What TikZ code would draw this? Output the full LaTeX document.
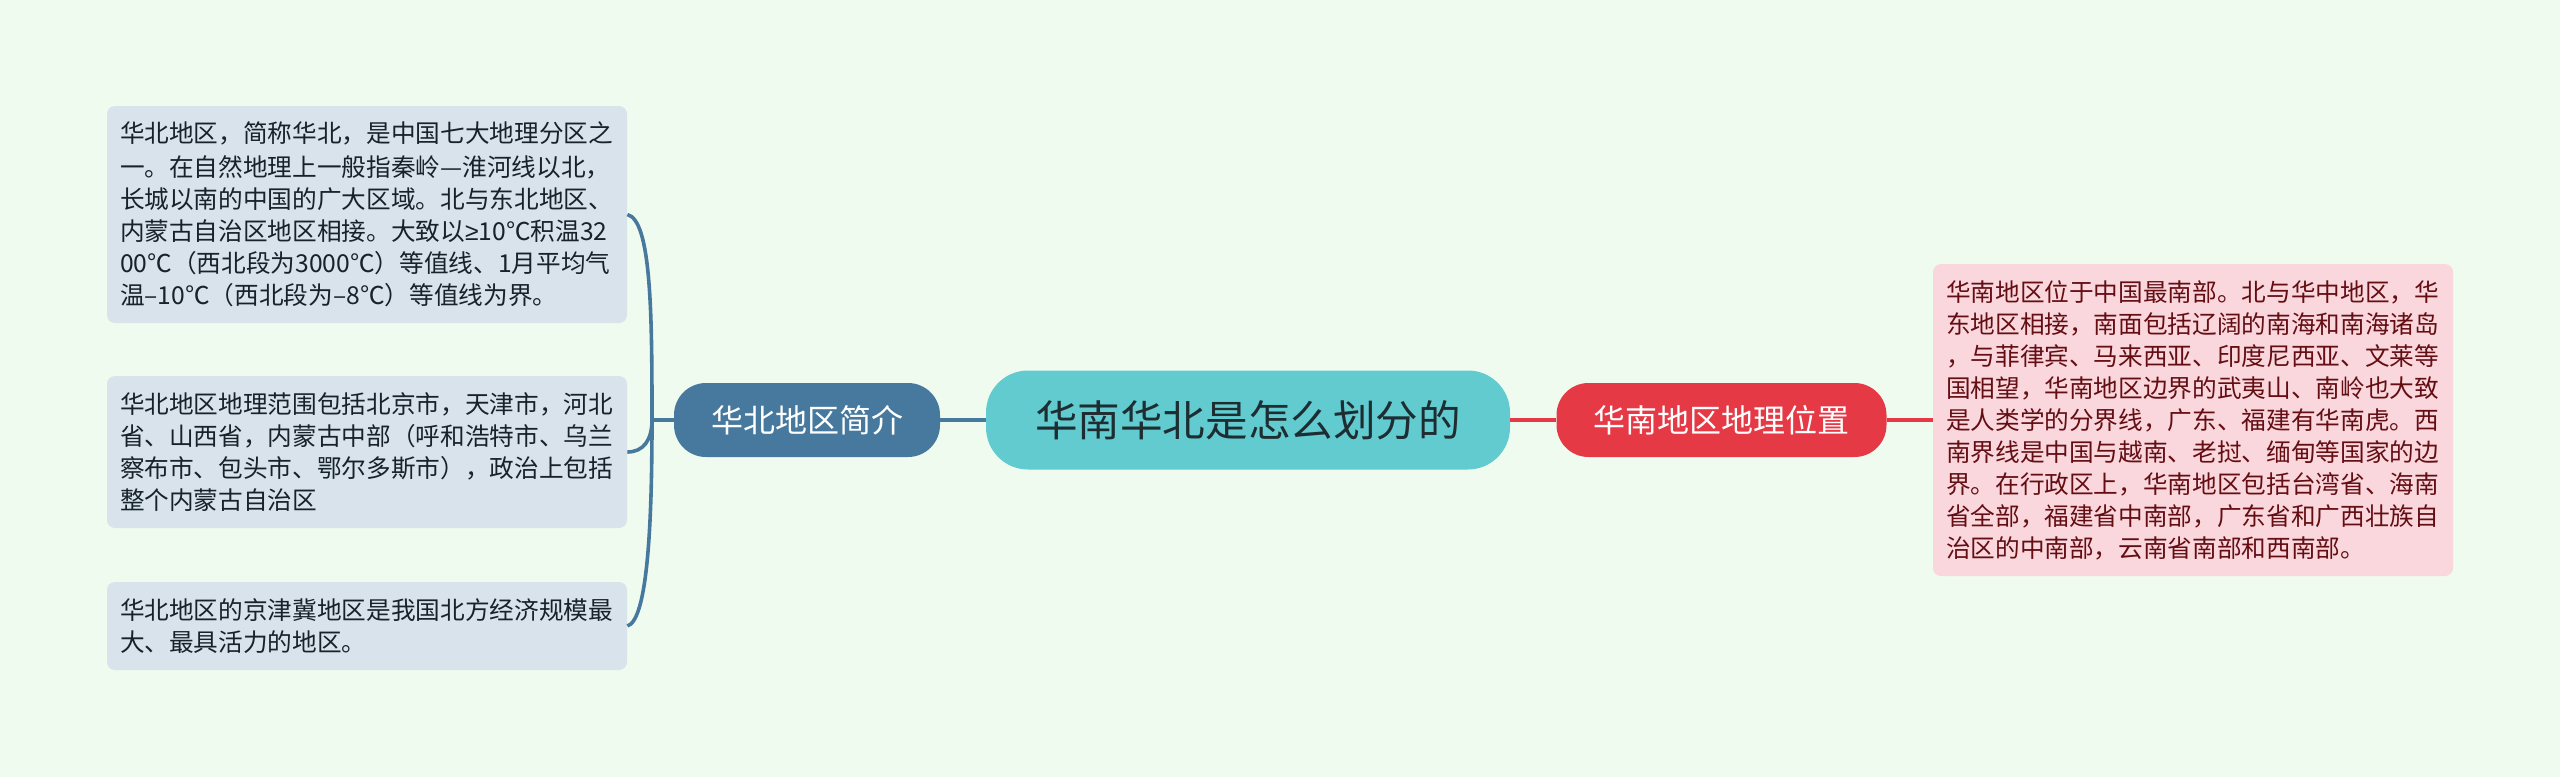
\documentclass[tikz,border=0pt]{standalone}
\usepackage{fontspec}
\setmainfont{Noto Sans CJK SC}
\newfontfamily\latinf{Liberation Sans}
\definecolor{bgc}{RGB}{240,251,240}
\definecolor{cyanc}{RGB}{98,203,207}
\definecolor{bluec}{RGB}{71,121,158}
\definecolor{redc}{RGB}{230,57,70}
\definecolor{lbluec}{RGB}{216,227,235}
\definecolor{pinkc}{RGB}{250,215,220}
\definecolor{darkc}{RGB}{30,45,50}
\definecolor{dbluec}{RGB}{22,34,44}
\definecolor{dredc}{RGB}{100,14,20}
\tikzset{
  rootbox/.style={fill=cyanc,text=darkc,rounded corners=21pt,minimum width=262pt,minimum height=49.5pt,inner sep=0pt,font=\fontsize{21.3}{26}\selectfont},
  branchbox/.style={rounded corners=16pt,minimum height=37pt,inner sep=0pt,text=white,font=\fontsize{16}{20}\selectfont},
  leafbox/.style={rounded corners=4pt,inner xsep=6.5pt,inner ysep=0pt,text width=247pt,align=left,font=\fontsize{12.33}{16}\selectfont},
  bluelink/.style={draw=bluec,line width=1.8pt},
  redlink/.style={draw=redc,line width=1.8pt},
}
\begin{document}
\begin{tikzpicture}[x=0.5pt,y=-0.5pt]
\fill[bgc] (0,0) rectangle (2560,777);
\useasboundingbox (0,0) rectangle (2560,777);
\node[rootbox] (root) at (1248,420) {华南华北是怎么划分的};
\node[branchbox,fill=bluec,minimum width=133pt] (north) at (807,420) {华北地区简介};
\node[branchbox,fill=redc,minimum width=165pt] (south) at (1721.5,420) {华南地区地理位置};
\node[leafbox,fill=lbluec,text=dbluec,minimum height=108.5pt] (n1) at (367,214.5) {\vspace{0.8pt}华北地区，简称华北，是中国七大地理分区之\\一。在自然地理上一般指秦岭—淮河线以北，\\长城以南的中国的广大区域。北与东北地区、\\内蒙古自治区地区相接。大致以{\latinf ≥}10℃积温32\\00℃（西北段为3000℃）等值线、1月平均气\\温–10℃（西北段为–8℃）等值线为界。};
\node[leafbox,fill=lbluec,text=dbluec,minimum height=76pt] (n2) at (367,452) {华北地区地理范围包括北京市，天津市，河北\\省、山西省，内蒙古中部（呼和浩特市、乌兰\\察布市、包头市、鄂尔多斯市），政治上包括\\整个内蒙古自治区};
\node[leafbox,fill=lbluec,text=dbluec,minimum height=44pt] (n3) at (367,626) {华北地区的京津冀地区是我国北方经济规模最\\大、最具活力的地区。};
\node[leafbox,fill=pinkc,text=dredc,minimum height=156pt] (s1) at (2193,420) {华南地区位于中国最南部。北与华中地区，华\\东地区相接，南面包括辽阔的南海和南海诸岛\\，与菲律宾、马来西亚、印度尼西亚、文莱等\\国相望，华南地区边界的武夷山、南岭也大致\\是人类学的分界线，广东、福建有华南虎。西\\南界线是中国与越南、老挝、缅甸等国家的边\\界。在行政区上，华南地区包括台湾省、海南\\省全部，福建省中南部，广东省和广西壮族自\\治区的中南部，云南省南部和西南部。};
\coordinate (hub) at (652,420);
\draw[bluelink] (root.west) -- (north.east);
\draw[bluelink] (north.west) -- (hub);
\draw[bluelink] (n1.east) .. controls ([xshift=12pt,yshift=-3pt]n1.east) and ([yshift=-50pt]hub |- n1.east) .. (hub);
\draw[bluelink] (n2.east) .. controls ([xshift=8pt]n2.east) and ([yshift=-10pt]hub) .. (hub);
\draw[bluelink] (n3.east) .. controls ([xshift=10pt,yshift=3pt]n3.east) and ([yshift=50pt]hub |- n3.east) .. (hub);
\draw[redlink] (root.east) -- (south.west);
\draw[redlink] (south.east) -- (s1.west);
\end{tikzpicture}
\end{document}
